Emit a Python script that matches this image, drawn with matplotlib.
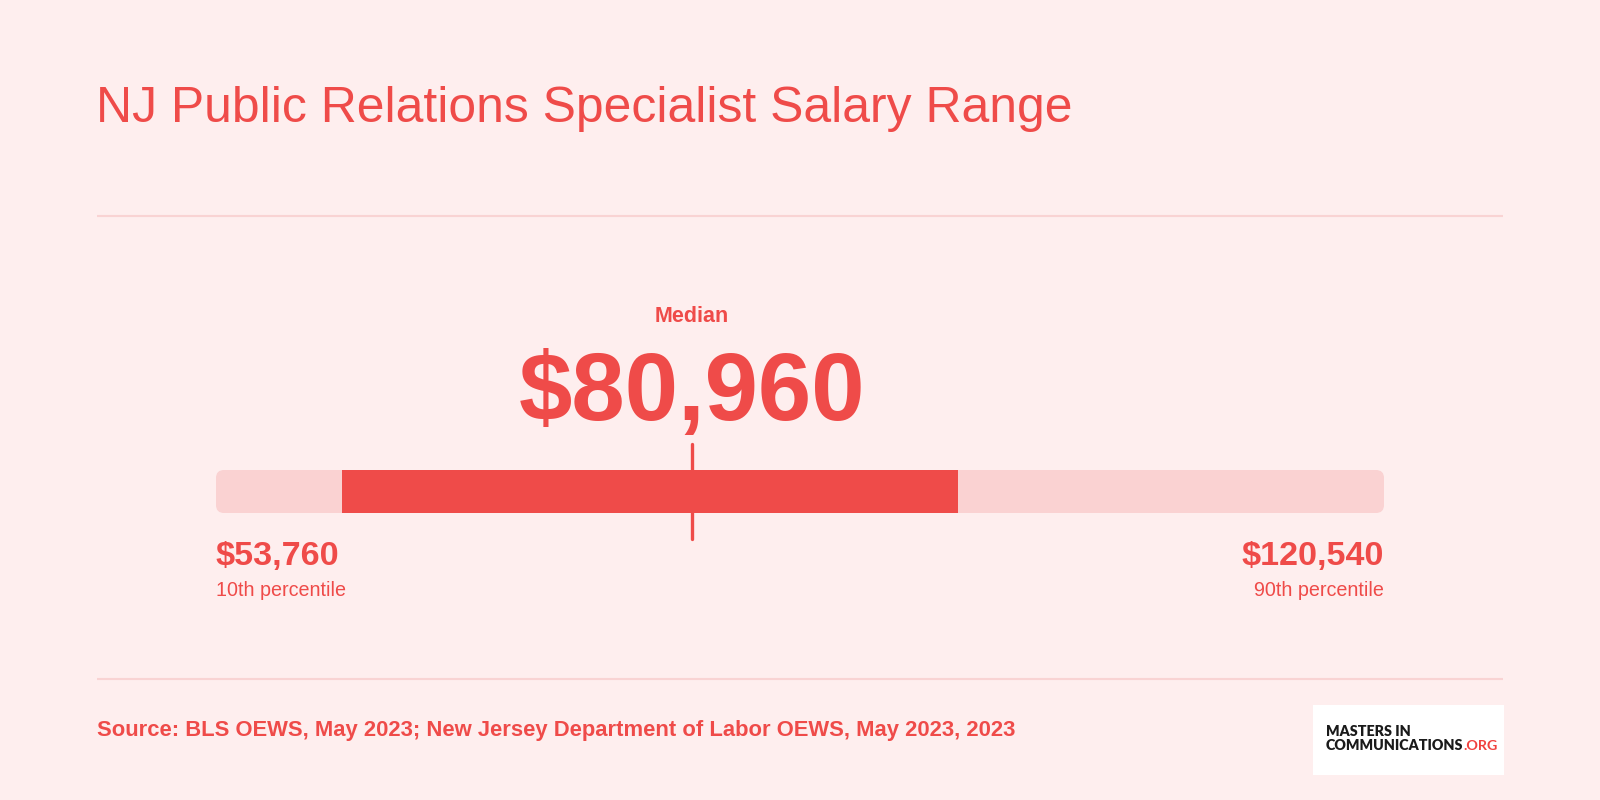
import matplotlib
matplotlib.use("Agg")
import matplotlib.pyplot as plt
from matplotlib.patches import FancyBboxPatch, Rectangle

# ---- data ----
title = "NJ Public Relations Specialist Salary Range"
p10 = 53760
p90 = 120540
median = 80960
q25 = 60960   # estimated from dark band start
q75 = 96180   # estimated from dark band end
p10_label = "10th percentile"
p90_label = "90th percentile"
median_label = "Median"
source = "Source: BLS OEWS, May 2023; New Jersey Department of Labor OEWS, May 2023, 2023"

BG = "#FEEEEE"
RED = "#EF4B49"
LIGHT = "#FAD2D2"
RULE = "#F9D3D3"
FONT = "Liberation Sans"

W, H = 1600, 800
fig = plt.figure(figsize=(16, 8), dpi=100, facecolor=BG)

# overlay axes in pixel coords
ov = fig.add_axes([0, 0, 1, 1])
ov.set_xlim(0, W)
ov.set_ylim(H, 0)
ov.axis("off")
ov.set_facecolor("none")

def money(v):
    return "${:,.0f}".format(v)

ov.text(96, 122, title, fontsize=35.9, color=RED, family=FONT, va="baseline", ha="left")
ov.plot([97, 1503], [215.5, 215.5], color=RULE, lw=1.5, solid_capstyle="butt")
ov.plot([97, 1503], [678.5, 678.5], color=RULE, lw=1.5, solid_capstyle="butt")

# bar axes
x0, x1, y0, y1 = 216, 1384, 470, 513
ax = fig.add_axes([x0 / W, 1 - y1 / H, (x1 - x0) / W, (y1 - y0) / H])
ax.set_xlim(p10, p90)
ax.set_ylim(0, 1)
ax.axis("off")
ax.set_facecolor("none")

xu_per_px = (p90 - p10) / (x1 - x0)
yu_per_px = 1.0 / (y1 - y0)
light = FancyBboxPatch((p10, 0), p90 - p10, 1,
                       boxstyle="round,pad=0,rounding_size=%f" % (8 * xu_per_px),
                       mutation_aspect=yu_per_px / xu_per_px,
                       facecolor=LIGHT, edgecolor="none", clip_on=False)
ax.add_patch(light)
ax.add_patch(Rectangle((q25, 0), q75 - q25, 1, facecolor=RED, edgecolor="none", clip_on=False))
ax.plot([median, median], [(y1 - 444) / (y1 - y0), (y1 - 539) / (y1 - y0)],
        color=RED, lw=2.4, solid_capstyle="round", clip_on=False)

# median texts, centered on the median position
mx_px = ax.transData.transform((median, 0))[0]
ov.text(mx_px, 322, median_label, fontsize=15.5, fontweight="bold", color=RED, family=FONT,
        ha="center", va="baseline")
ov.text(mx_px, 420, money(median), fontsize=69, fontweight="bold", color=RED, family=FONT,
        ha="center", va="baseline")

# end labels
ov.text(x0, 565, money(p10), fontsize=24.6, fontweight="bold", color=RED, family=FONT,
        ha="left", va="baseline")
ov.text(x0, 596, p10_label, fontsize=14.2, color=RED, family=FONT, ha="left", va="baseline")
ov.text(x1, 565, money(p90), fontsize=24.6, fontweight="bold", color=RED, family=FONT,
        ha="right", va="baseline")
ov.text(x1, 596, p90_label, fontsize=14.2, color=RED, family=FONT, ha="right", va="baseline")

# source
ov.text(97, 736, source, fontsize=15.85, fontweight="bold", color=RED, family=FONT,
        ha="left", va="baseline")

# logo
ov.add_patch(Rectangle((1313, 705), 191, 70, facecolor="white", edgecolor="none"))
ov.text(1326, 736, "MASTERS IN", fontsize=10.3, fontweight="heavy", color="#1a1a1a",
        family="Lato", ha="left", va="baseline")
t2 = ov.text(1326, 750.5, "COMMUNICATIONS", fontsize=10.3, fontweight="heavy", color="#1a1a1a",
             family="Lato", ha="left", va="baseline")
fig.canvas.draw()
bb = t2.get_window_extent(renderer=fig.canvas.get_renderer())
xend = ov.transData.inverted().transform((bb.x1, bb.y0))[0]
ov.text(xend, 750.5, ".ORG", fontsize=10.3, fontweight="bold", color="#F0413E",
        family="Lato", ha="left", va="baseline")

fig.savefig("out.png", dpi=100, facecolor=BG)
